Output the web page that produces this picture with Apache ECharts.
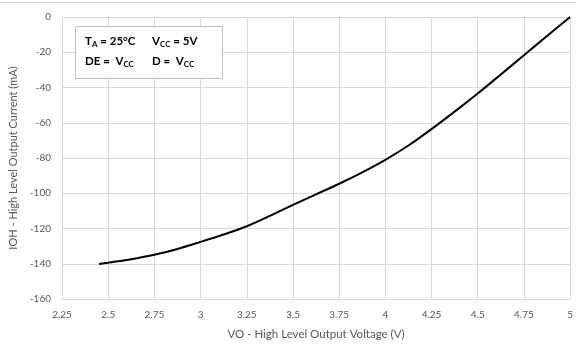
<!DOCTYPE html>
<html>
<head>
<meta charset="utf-8">
<script src="https://cdn.jsdelivr.net/npm/echarts@6/dist/echarts.min.js"></script>
<style>
html,body{margin:0;padding:0;background:#fff;}
#c{width:576px;height:345px;}
</style>
</head>
<body>
<div id="c"></div>
<script>
var voltage = [2.45, 2.5, 2.625, 2.75, 2.875, 3.0, 3.125, 3.25, 3.375, 3.5, 3.625, 3.75, 3.875, 4.0, 4.125, 4.25, 4.375, 4.5, 4.625, 4.75, 4.875, 5.0];
var current = [-140.2, -139.4, -137.4, -134.9, -131.6, -127.6, -123.4, -118.7, -112.8, -106.6, -100.6, -94.6, -88.1, -81.0, -72.9, -63.6, -53.7, -43.4, -32.6, -21.7, -10.8, 0];
var xTitle = 'VO - High Level Output Voltage (V)';
var yTitle = 'IOH - High Level Output Current (mA)';

var pts = voltage.map(function(v, i){ return [v, current[i]]; });
var font = 'Lato, "Open Sans", sans-serif';
var chart = echarts.init(document.getElementById('c'));
var rich = {
  b: {fontFamily: font, fontSize: 11.5, fontWeight: 'bold', color: '#000'},
  s: {fontFamily: font, fontSize: 8, fontWeight: 'bold', color: '#000', padding: [6,0,0,0]}
};
chart.setOption({
  animation: false,
  backgroundColor: '#ffffff',
  grid: {left: 61, right: 3, top: 17, bottom: 45, containLabel: false},
  xAxis: {
    type: 'value', min: 2.25, max: 5, interval: 0.25,
    name: xTitle, nameLocation: 'middle', nameGap: 29,
    nameTextStyle: {fontFamily: font, fontSize: 11.5, color: '#595959'},
    axisLine: {show: false}, axisTick: {show: false},
    axisLabel: {fontFamily: font, fontSize: 10, color: '#595959', margin: 11},
    splitLine: {show: true, lineStyle: {color: '#d9d9d9', width: 1}}
  },
  yAxis: {
    type: 'value', min: -160, max: 0, interval: 20,
    name: yTitle, nameLocation: 'middle', nameGap: 42, nameRotate: 90,
    nameTextStyle: {fontFamily: font, fontSize: 11, color: '#595959'},
    axisLine: {show: false}, axisTick: {show: false},
    axisLabel: {fontFamily: font, fontSize: 10, color: '#595959', margin: 11},
    splitLine: {show: true, lineStyle: {color: '#d9d9d9', width: 1}}
  },
  series: [{
    type: 'line', data: pts, smooth: 0.3, symbol: 'none',
    lineStyle: {color: '#000000', width: 2}
  }],
  graphic: [
    {type: 'line', shape: {x1: 0, y1: 2.5, x2: 576, y2: 2.5}, style: {stroke: '#d9d9d9', lineWidth: 1}},
    {type: 'rect', shape: {x: 75.5, y: 26.5, width: 147, height: 52}, style: {fill: '#ffffff', stroke: '#bfbfbf', lineWidth: 1}, z: 100},
    {type: 'text', left: 85, top: 35, z: 101, style: {text: '{b|T}{s|A}{b| = 25°C}', rich: rich}},
    {type: 'text', left: 152, top: 35, z: 101, style: {text: '{b|V}{s|CC}{b| = 5V}', rich: rich}},
    {type: 'text', left: 85, top: 55, z: 101, style: {text: '{b|DE =  V}{s|CC}', rich: rich}},
    {type: 'text', left: 152, top: 55, z: 101, style: {text: '{b|D =  V}{s|CC}', rich: rich}}
  ]
});
</script>
</body>
</html>
